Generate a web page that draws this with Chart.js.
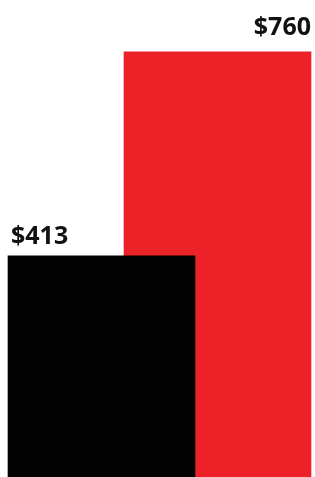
<!DOCTYPE html>
<html>
<head>
<meta charset="utf-8">
<script src="https://cdn.jsdelivr.net/npm/chart.js@4/dist/chart.umd.min.js"></script>
<style>
  html, body { margin: 0; padding: 0; background: #fff; }
  #wrap { width: 315px; height: 477px; position: relative; }
</style>
</head>
<body>
<div id="wrap"><canvas id="costChart"></canvas></div>
<script>
// categories and values
const categories = ["A", "B"];
const blackValues = [413, null];
const redValues = [null, 760];
const valueLabels = ["$413", "$760"];

// labels sit on top of each bar, left edge for the first, right edge for the second
const barLabels = {
    id: "barLabels",
    afterDatasetsDraw(chart) {
        const ctx = chart.ctx;
        ctx.save();
        ctx.font = "bold 25px 'Noto Sans'";
        ctx.fillStyle = "#111111";
        ctx.textBaseline = "alphabetic";
        chart.data.datasets.forEach((ds, di) => {
            const meta = chart.getDatasetMeta(di);
            meta.data.forEach((bar, i) => {
                if (ds.data[i] == null) return;
                const half = bar.width / 2;
                if (i === 0) {
                    ctx.textAlign = "left";
                    ctx.fillText(valueLabels[i], bar.x - half + 3, bar.y - 12);
                } else {
                    ctx.textAlign = "right";
                    ctx.fillText(valueLabels[i], bar.x + half, bar.y - 17);
                }
            });
        });
        ctx.restore();
    }
};

const ctx = document.getElementById("costChart").getContext("2d");

new Chart(ctx, {
    type: "bar",
    data: {
        labels: categories,
        datasets: [
            {
                data: blackValues,
                backgroundColor: "#020202",
                grouped: false,
                order: 0
            },
            {
                data: redValues,
                backgroundColor: "#ED2229",
                grouped: false,
                order: 1
            }
        ]
    },
    options: {
        responsive: true,
        maintainAspectRatio: false,
        animation: false,
        layout: { padding: { left: 43.5, right: 39.5, top: 0, bottom: 0 } },
        datasets: {
            bar: { barThickness: 187, clip: false }
        },
        scales: {
            x: { display: false, offset: true },
            y: { display: false, min: 37, max: 848 }
        },
        plugins: {
            legend: { display: false },
            tooltip: { enabled: false }
        }
    },
    plugins: [barLabels]
});
</script>
</body>
</html>
